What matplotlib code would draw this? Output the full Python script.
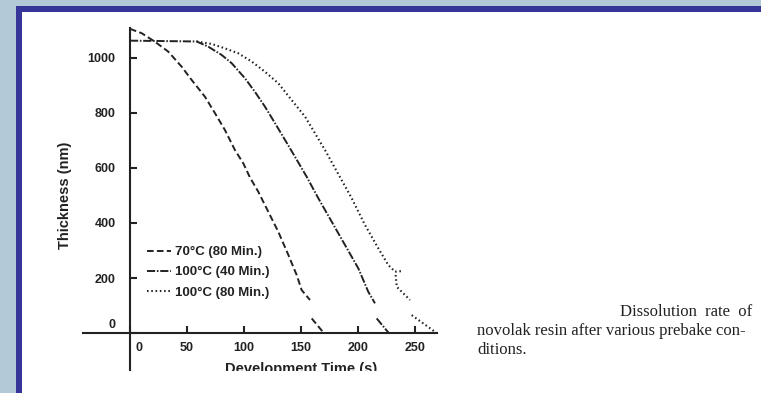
import numpy as np
import matplotlib
matplotlib.use('Agg')
import matplotlib.pyplot as plt
from matplotlib.patches import Rectangle
from matplotlib.transforms import Bbox, TransformedBbox, ScaledTranslation

# development time (s) vs. remaining resist thickness (nm); nan = break in the trace
t_70_80 = [0, 10.3, 21.9, 33.6, 45.4, 54.1, 65.8, 74.6, 83.3, 92.1, 99.4,
           105.3, 112.5, 121.3, 130.1, 138.9, 146.2, 149.1, 150.6, 157.9,
           np.nan, 159.4, 170]
d_70_80 = [1106, 1090, 1059, 1023, 968, 920, 859, 799, 738, 665, 617,
           565, 514, 441, 368, 284, 211, 175, 156, 120,
           np.nan, 53, 0]

t_100_40 = [0, 58.5, 68.7, 80.4, 89.2, 100.9, 109.6, 118.4, 127.2, 136,
            144.7, 155, 165.2, 176.9, 188.6, 200.3, 209, 214.9,
            np.nan, 216.4, 227]
d_100_40 = [1063, 1060, 1041, 1011, 981, 926, 877, 823, 763, 702,
            641, 568, 490, 405, 320, 235, 150, 108,
            np.nan, 53, 0]

t_100_80 = [58.5, 71.7, 83.3, 95, 106.8, 118.4, 130.1, 141.8, 153.5, 162.3,
            171.1, 182.7, 194.5, 206.1, 217.8, 226.6, 232.5, 238.3,
            np.nan, 233, 234, 245.6, np.nan, 247.1, 269]
d_100_80 = [1060, 1051, 1035, 1017, 987, 950, 908, 847, 787, 726,
            665, 578, 490, 393, 308, 247, 223, 225,
            np.nan, 211, 168, 120, np.nan, 65, 0]

labels = ['70°C (80 Min.)', '100°C (40 Min.)', '100°C (80 Min.)']
x_ticks = [0, 50, 100, 150, 200, 250]
y_ticks = [0, 200, 400, 600, 800, 1000]

caption = ['Dissolution  rate  of',
           'novolak resin after various prebake con-',
           'ditions.']

ink = '#222222'
plt.rcParams['font.family'] = ['Liberation Sans', 'DejaVu Sans']
plt.rcParams['font.weight'] = 'bold'

W, H = 761, 393
fig = plt.figure(figsize=(W / 100, H / 100), dpi=100)
fig.patch.set_facecolor('white')

# slide frame on the left and top
def frame(x0, y0, x1, y1, color):
    fig.patches.append(Rectangle((x0 / W, 1 - y1 / H), (x1 - x0) / W, (y1 - y0) / H,
                                 transform=fig.transFigure, color=color, lw=0, zorder=-5))

frame(0, 0, 16, H, '#b3c9d7')
frame(0, 0, W, 6, '#b3c9d7')
frame(16, 6, 22, H, '#35359a')
frame(16, 6, W, 12, '#35359a')

ax = fig.add_axes([83 / W, 1 - 370 / H, (437 - 83) / W, (370 - 28) / H])
ax.set_facecolor('none')

lw = 1.4
ax.plot(t_70_80, d_70_80, color=ink, lw=lw, dashes=(3.4, 1.7),
        label=labels[0], clip_on=False)
ax.plot(t_100_40, d_100_40, color=ink, lw=lw, dashes=(4.2, 0.9, 0.8, 0.9),
        label=labels[1], clip_on=False)
ax.plot(t_100_80, d_100_80, color=ink, lw=1.5, dashes=(0.75, 1.3),
        label=labels[2], clip_on=False)

ax.set_xlim(-41.2, 269.3)
ax.set_ylim(-134.5, 1109)

for side in ['top', 'right']:
    ax.spines[side].set_visible(False)
for side in ['left', 'bottom']:
    ax.spines[side].set_position(('data', 0))
    ax.spines[side].set_linewidth(1.5)
    ax.spines[side].set_color(ink)

ax.set_xticks(x_ticks, [str(v) for v in x_ticks])
ax.set_yticks(y_ticks, [str(v) for v in y_ticks])
ax.tick_params(direction='in', length=5, width=1.5, colors=ink, labelsize=9)
ax.tick_params(axis='x', pad=6.5)
ax.tick_params(axis='y', pad=10.5)

# keep the zero labels clear of the crossing axes
zx = ax.get_xticklabels()[0]
zx.set_transform(zx.get_transform() + ScaledTranslation(0.09, 0, fig.dpi_scale_trans))
zy = ax.get_yticklabels()[0]
zy.set_transform(zy.get_transform() + ScaledTranslation(0, 0.10, fig.dpi_scale_trans))

ax.set_ylabel('Thickness (nm)', fontsize=10.5, fontweight='bold', color=ink)
ax.yaxis.set_label_coords((72 - 83) / 354, (370 - 195) / 342)

xl = ax.set_xlabel('Development Time (s)', fontsize=10.5, fontweight='bold', color=ink)
ax.xaxis.set_label_coords((301 - 83) / 354, (370 - 362) / 342)
xl.set_clip_box(TransformedBbox(Bbox([[0, 1 - 371 / H], [1, 1]]), fig.transFigure))
xl.set_clip_on(True)

ax.legend(loc='upper left', bbox_to_anchor=(147 / W, 1 - 246 / H),
          bbox_transform=fig.transFigure, frameon=False,
          prop={'family': 'Liberation Sans', 'weight': 'bold', 'size': 9.5},
          handlelength=1.8, handletextpad=0.3, labelspacing=0.6,
          borderpad=0, borderaxespad=0, labelcolor=ink)

serif = dict(family='Liberation Serif', weight='normal', size=12, color=ink, va='center')
fig.text(752 / W, 1 - 312 / H, caption[0], ha='right', **serif)
fig.text(477 / W, 1 - 331 / H, caption[1], ha='left', **serif)
fig.text(477 / W, 1 - 350 / H, caption[2], ha='left', **serif)

fig.savefig('out.png', dpi=100)
